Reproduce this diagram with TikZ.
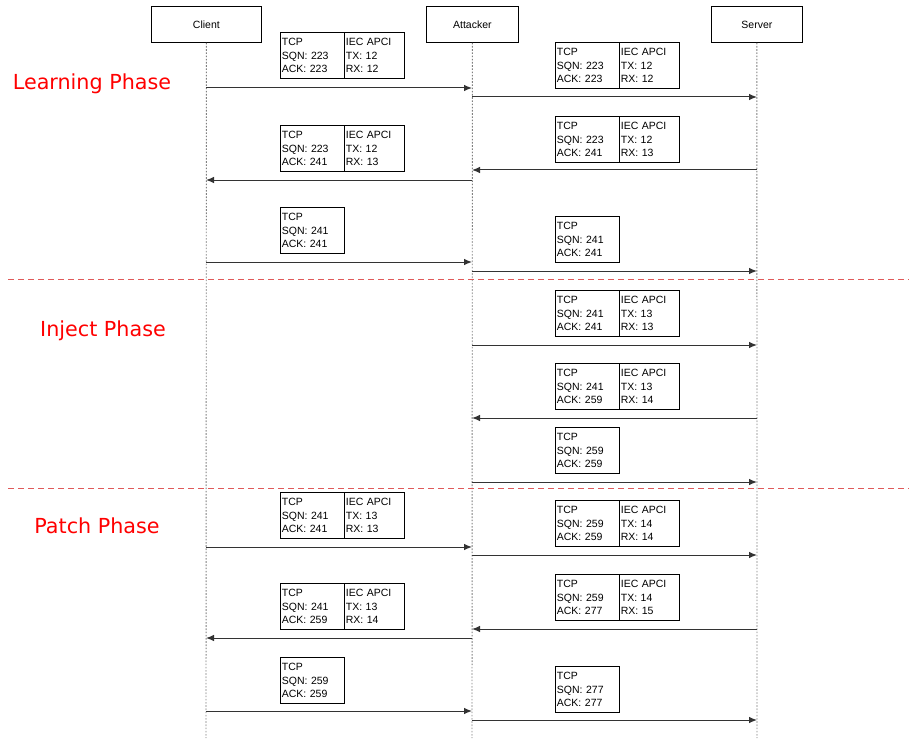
\documentclass[tikz,border=0pt]{standalone}
\usepackage{fontspec}
\setmainfont{Liberation Sans}
\newfontfamily\phasefont{DejaVu Sans}
\usetikzlibrary{arrows.meta}
\definecolor{phasered}{HTML}{FF0000}
\definecolor{sepred}{HTML}{E05A5A}
\definecolor{lifegray}{HTML}{808080}
\definecolor{msgline}{HTML}{333333}
\tikzset{
  actor/.style={draw=black, line width=0.8pt, minimum width=#1, minimum height=36, inner sep=0pt, font=\fontsize{10.5}{12}\selectfont, anchor=north west},
  lifeline/.style={draw=lifegray, line width=0.9pt, dash pattern=on 1.6pt off 1.6pt},
  sep/.style={draw=sepred, line width=1.2pt, dash pattern=on 6pt off 4pt},
  phase/.style={text=phasered, font=\phasefont\fontsize{20.7}{24}\selectfont},
  pbox/.style={draw=black, line width=0.8pt, rectangle, anchor=north west, minimum height=46, text width=#1, inner xsep=1.5pt, inner ysep=0pt, align=left, font=\fontsize{10.5}{13.3}\selectfont},
  msg/.style={draw=msgline, line width=1pt, -{Latex[length=8pt,width=6.5pt]}},
}
\newcommand\duo[7]{% name, x, y, sqn, ack, tx, rx
  \node[pbox=61] (#1l) at (#2,#3) {TCP\\SQN: #4\\ACK: #5};
  \node[pbox=57] (#1r) at (#2+64,#3) {IEC APCI\\TX: #6\\RX: #7};
}
\newcommand\solo[5]{% name, x, y, sqn, ack
  \node[pbox=61] (#1l) at (#2,#3) {TCP\\SQN: #4\\ACK: #5};
}
\begin{document}
\begin{tikzpicture}[x=1pt,y=-1pt]
\useasboundingbox (0,0) rectangle (909,738);
% actors
\node[actor=110] (client) at (151,6) {Client};
\node[actor=92] (attacker) at (426,6) {Attacker};
\node[actor=91] (server) at (711,6) {Server};
\coordinate (cend) at (206,738);
\coordinate (aend) at (472,738);
\coordinate (send) at (757,738);
\draw[lifeline] (client.south) -- (cend);
\draw[lifeline] (attacker.south) -- (aend);
\draw[lifeline] (server.south) -- (send);
% separators
\coordinate (s1a) at (8,279.5); \coordinate (s1b) at (909,279.5);
\coordinate (s2a) at (8,488.5); \coordinate (s2b) at (909,488.5);
\draw[sep] (s1a) -- (s1b);
\draw[sep] (s2a) -- (s2b);
% phase labels
\node[phase] (lp) at (92,84) {Learning Phase};
\node[phase] (ip) at (103,331) {Inject Phase};
\node[phase] (pp) at (97,526) {Patch Phase};
% message boxes
\duo{m1}{280}{32}{223}{223}{12}{12}
\duo{m2}{555}{42}{223}{223}{12}{12}
\duo{m3}{555}{116}{223}{241}{12}{13}
\duo{m4}{280}{125}{223}{241}{12}{13}
\solo{m5}{280}{207}{241}{241}
\solo{m6}{555}{216}{241}{241}
\duo{m7}{555}{290}{241}{241}{13}{13}
\duo{m8}{555}{363}{241}{259}{13}{14}
\solo{m9}{555}{427}{259}{259}
\duo{m10}{280}{492}{241}{241}{13}{13}
\duo{m11}{555}{500}{259}{259}{14}{14}
\duo{m12}{555}{574}{259}{277}{14}{15}
\duo{m13}{280}{583}{241}{259}{13}{14}
\solo{m14}{280}{657}{259}{259}
\solo{m15}{555}{666}{277}{277}
% arrow endpoints
\foreach \n/\y in {1/88,4/180,5/262,10/547,13/638,14/711}{
  \coordinate (c\n) at (206,\y); \coordinate (a\n) at (472,\y);}
\foreach \n/\y in {2/97,3/170,6/271,7/345,8/418,9/482,11/555,12/629,15/720}{
  \coordinate (a\n) at (472,\y); \coordinate (s\n) at (757,\y);}
% arrows
\draw[msg] (c1) -- (a1);
\draw[msg] (a2) -- (s2);
\draw[msg] (s3) -- (a3);
\draw[msg] (a4) -- (c4);
\draw[msg] (c5) -- (a5);
\draw[msg] (a6) -- (s6);
\draw[msg] (a7) -- (s7);
\draw[msg] (s8) -- (a8);
\draw[msg] (a9) -- (s9);
\draw[msg] (c10) -- (a10);
\draw[msg] (a11) -- (s11);
\draw[msg] (s12) -- (a12);
\draw[msg] (a13) -- (c13);
\draw[msg] (c14) -- (a14);
\draw[msg] (a15) -- (s15);
\end{tikzpicture}
\end{document}
